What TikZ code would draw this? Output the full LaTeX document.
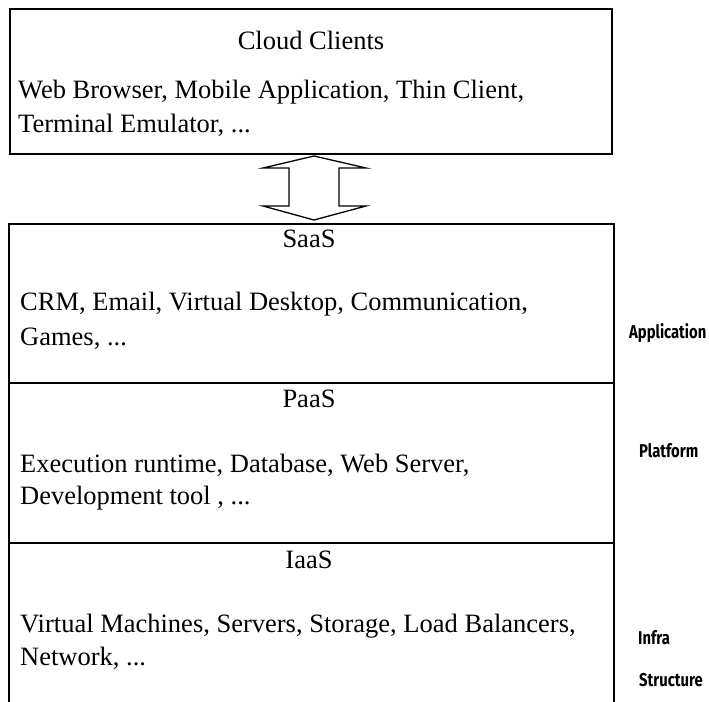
\documentclass[tikz,border=0pt]{standalone}
\usepackage{fontspec}
\setmainfont{Liberation Serif}
\newfontfamily\agency[FakeStretch=0.8]{Fira Sans}
\usetikzlibrary{calc}
\begin{document}
\begin{tikzpicture}[x=1pt,y=-1pt,
  box/.style={draw=black,line width=2pt,rectangle,inner sep=0pt,anchor=north west},
  txt/.style={inner sep=0pt,anchor=base west,font=\fontsize{26.5}{31}\selectfont},
  ttl/.style={inner sep=0pt,anchor=base,font=\fontsize{26.5}{31}\selectfont},
  side/.style={inner sep=0pt,anchor=base west,font=\agency\bfseries\fontsize{18.5}{22}\selectfont},
  outline/.style={draw=black,line width=1.3pt,line join=miter}]
\useasboundingbox (0,0) rectangle (709,701);
% top box
\node[box,minimum width=602pt,minimum height=145pt] (clients) at (9,8) {};
\node[ttl] (cctitle) at (311,50) {Cloud Clients};
\node[txt] (cc1) at (18,98) {Web Browser, Mobile Application, Thin Client,};
\node[txt] (cc2) at (18,132) {Terminal Emulator, ...};
% layers
\node[box,minimum width=605pt,minimum height=159pt] (saas) at (8,223) {};
\node[box,minimum width=605pt,minimum height=160pt] (paas) at (8,382) {};
\node[box,minimum width=605pt,minimum height=162pt] (iaas) at (8,542) {};
\node[ttl] (saast) at (309,247) {SaaS};
\node[txt] (s1) at (20,310) {CRM, Email, Virtual Desktop, Communication,};
\node[txt] (s2) at (20,345) {Games, ...};
\node[ttl] (paast) at (309,407) {PaaS};
\node[txt] (p1) at (20,472) {Execution runtime, Database, Web Server,};
\node[txt] (p2) at (20,504) {Development tool , ...};
\node[ttl] (iaast) at (309,568) {IaaS};
\node[txt] (i1) at (20,632) {Virtual Machines, Servers, Storage, Load Balancers,};
\node[txt] (i2) at (20,665) {Network, ...};
% side labels
\node[side] (lapp) at (629,338) {Application};
\node[side] (lplat) at (639,457) {Platform};
\node[side] (linfra) at (638,644) {Infra};
\node[side] (lstruct) at (639,686) {Structure};
% double arrow between clients and saas
\coordinate (tt) at ($(clients.south)+(3,1)$);
\coordinate (bt) at ($(saas.north)+(2.5,-3)$);
\draw[outline] (tt) -- ($(tt)+(52,12)$) -- ($(tt)+(25,12)$)
  -- ($(bt)+(25,-14)$) -- ($(bt)+(52,-14)$) -- (bt)
  -- ($(bt)+(-51,-14)$) -- ($(bt)+(-25,-14)$)
  -- ($(tt)+(-25,12)$) -- ($(tt)+(-51,12)$) -- cycle;
\end{tikzpicture}
\end{document}
